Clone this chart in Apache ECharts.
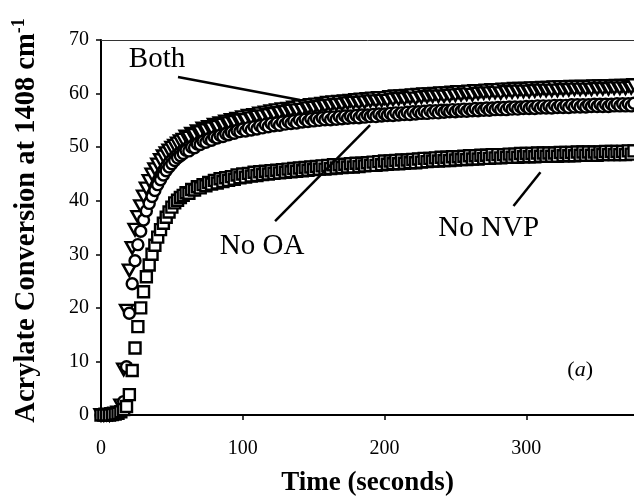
<!DOCTYPE html>
<html><head><meta charset="utf-8">
<script src="https://cdn.jsdelivr.net/npm/echarts/dist/echarts.min.js"></script>
<style>html,body{margin:0;padding:0;background:#fff}#c{width:634px;height:502px}</style>
</head><body><div id="c"></div>
<script>
const times = [
0,2,4,6,8,10,12,14,16,18,
20,22,24,26,28,30,32,34,36,38,
40,42,44,46,48,50,52,54,56,58,
60,62,64,66,68,70,72,74,76,78,
80,82,84,86,88,90,92,94,96,98,
100,102,104,106,108,110,112,114,116,118,
120,122,124,126,128,130,132,134,136,138,
140,142,144,146,148,150,152,154,156,158,
160,162,164,166,168,170,172,174,176,178,
180,182,184,186,188,190,192,194,196,198,
200,202,204,206,208,210,212,214,216,218,
220,222,224,226,228,230,232,234,236,238,
240,242,244,246,248,250,252,254,256,258,
260,262,264,266,268,270,272,274,276,278,
280,282,284,286,288,290,292,294,296,298,
300,302,304,306,308,310,312,314,316,318,
320,322,324,326,328,330,332,334,336,338,
340,342,344,346,348,350,352,354,356,358,
360,362,364,366,368,370,372,374,376];

const both = [
0.0,0.0,0.1,0.0,0.2,0.3,0.5,1.8,8.5,19.5,
27.0,31.2,34.6,37.0,39.0,40.8,42.3,43.7,44.9,45.9,
46.8,47.6,48.3,48.9,49.4,49.9,50.3,50.7,51.1,51.4,
52.0,51.8,52.5,52.3,53.0,52.8,53.5,53.2,53.8,53.5,
54.2,53.8,54.5,54.2,54.8,54.5,55.1,54.7,55.3,55.0,
55.6,55.1,55.9,55.4,56.0,55.7,56.3,55.8,56.5,56.0,
56.7,56.2,56.9,56.4,57.1,56.6,57.2,56.8,57.4,56.9,
57.6,57.0,57.7,57.3,57.9,57.4,58.0,57.5,58.1,57.7,
58.3,57.8,58.4,57.9,58.5,58.0,58.6,58.2,58.7,58.3,
58.8,58.3,58.9,58.4,59.0,58.6,59.1,58.6,59.2,58.7,
59.2,58.7,59.4,58.9,59.5,59.0,59.5,59.0,59.6,59.2,
59.7,59.1,59.8,59.3,59.9,59.4,59.9,59.5,60.0,59.5,
60.1,59.5,60.1,59.6,60.2,59.7,60.3,59.8,60.3,59.9,
60.4,59.8,60.5,60.0,60.5,60.1,60.6,60.1,60.7,60.2,
60.7,60.1,60.8,60.3,60.8,60.3,60.9,60.4,60.9,60.4,
60.9,60.4,61.0,60.5,61.0,60.6,61.1,60.6,61.1,60.6,
61.2,60.6,61.2,60.7,61.2,60.7,61.3,60.8,61.3,60.8,
61.3,60.8,61.3,60.8,61.4,60.9,61.4,60.9,61.4,60.9,
61.4,61.0,61.5,61.0,61.5,61.0,61.5,61.1,61.6];

const noOA = [
0.0,0.0,0.0,0.1,0.1,0.2,0.3,0.6,2.5,9.0,
19.0,24.5,28.8,31.8,34.3,36.4,38.1,39.5,40.8,41.9,
43.0,43.9,44.8,45.6,46.3,46.9,47.5,48.0,48.4,48.8,
49.4,49.3,50.0,49.9,50.6,50.5,51.1,50.9,51.5,51.3,
51.9,51.7,52.2,52.0,52.5,52.3,52.8,52.6,53.1,52.9,
53.4,53.0,53.6,53.2,53.8,53.4,54.0,53.6,54.2,53.8,
54.4,54.0,54.5,54.1,54.7,54.3,54.8,54.4,54.9,54.5,
55.1,54.7,55.2,54.8,55.3,54.9,55.4,55.0,55.5,55.1,
55.6,55.1,55.6,55.2,55.7,55.3,55.8,55.4,55.8,55.5,
55.9,55.5,56.0,55.6,56.0,55.7,56.1,55.7,56.2,55.8,
56.2,55.9,56.3,55.9,56.4,56.0,56.4,56.1,56.5,56.1,
56.6,56.2,56.6,56.3,56.7,56.3,56.8,56.4,56.8,56.4,
56.9,56.5,56.9,56.6,57.0,56.6,57.0,56.7,57.1,56.7,
57.1,56.8,57.2,56.8,57.2,56.9,57.3,56.9,57.3,57.0,
57.4,57.0,57.4,57.0,57.5,57.1,57.5,57.1,57.5,57.2,
57.6,57.2,57.6,57.2,57.7,57.3,57.7,57.3,57.7,57.3,
57.8,57.4,57.8,57.4,57.8,57.4,57.9,57.5,57.9,57.5,
57.9,57.5,57.9,57.6,58.0,57.6,58.0,57.6,58.0,57.6,
58.0,57.7,58.1,57.7,58.1,57.7,58.1,57.7,58.2];

const noNVP = [
0.0,0.0,0.0,0.0,0.1,0.2,0.3,0.6,1.0,1.6,
3.8,8.3,12.5,16.5,20.0,23.0,25.8,28.0,30.0,31.7,
33.2,34.6,35.8,36.9,37.9,38.8,39.6,40.1,40.6,41.0,
41.5,41.4,42.1,42.0,42.6,42.4,43.0,42.8,43.4,43.1,
43.8,43.3,44.1,43.6,44.3,43.8,44.5,44.0,44.8,44.3,
45.0,44.4,45.1,44.6,45.3,44.7,45.4,44.9,45.5,45.0,
45.6,45.1,45.7,45.2,45.8,45.3,45.9,45.4,46.0,45.5,
46.1,45.6,46.2,45.7,46.3,45.8,46.4,45.9,46.5,45.9,
46.6,46.0,46.7,46.1,46.7,46.2,46.8,46.3,46.9,46.3,
47.0,46.4,47.0,46.5,47.1,46.6,47.2,46.6,47.3,46.7,
47.4,46.8,47.4,46.9,47.5,46.9,47.6,47.0,47.6,47.1,
47.7,47.1,47.8,47.2,47.9,47.3,47.9,47.4,48.0,47.4,
48.1,47.5,48.1,47.5,48.2,47.6,48.2,47.7,48.3,47.7,
48.4,47.8,48.4,47.8,48.5,47.9,48.5,47.9,48.6,48.0,
48.6,48.0,48.6,48.1,48.7,48.1,48.7,48.1,48.8,48.2,
48.8,48.2,48.8,48.2,48.9,48.3,48.9,48.3,48.9,48.3,
48.9,48.3,49.0,48.4,49.0,48.4,49.0,48.4,49.1,48.5,
49.1,48.5,49.1,48.5,49.1,48.5,49.1,48.6,49.2,48.6,
49.2,48.6,49.2,48.6,49.2,48.6,49.3,48.7,49.3];

const xTicks = [0, 100, 200, 300];
const yTicks = [0, 10, 20, 30, 40, 50, 60, 70];

// annotation labels and pointer lines, in data coordinates
const labels = [
  {text: 'Both',   at: [39.5, 66.3]},
  {text: 'No OA',  at: [113.6, 31.4]},
  {text: 'No NVP', at: [273.5, 34.9]}
];
const pointers = [
  [[54.3, 63.1], [140.4, 58.8]],
  [[122.8, 36.2], [189.8, 54.1]],
  [[291.0, 39.0], [310.0, 45.3]]
];
const panelTag = {at: [338, 8.4]};

const FONT = 'Liberation Serif';
const markerStyle = {color: '#fff', borderColor: '#000', borderWidth: 2.4, opacity: 1};
function pts(vals) { return times.map((t, i) => [t, vals[i]]); }

const chart = echarts.init(document.getElementById('c'), null, {renderer: 'canvas'});
chart.setOption({
  animation: false,
  backgroundColor: '#fff',
  grid: {left: 101, right: 0, top: 40, bottom: 87, containLabel: false},
  xAxis: [{
    type: 'value', min: 0, max: 376, position: 'bottom',
    name: 'Time (seconds)', nameLocation: 'middle', nameGap: 55,
    nameTextStyle: {fontFamily: FONT, fontWeight: 'bold', fontSize: 27, color: '#000'},
    axisLine: {show: true, onZero: false, lineStyle: {color: '#000', width: 2}},
    axisTick: {show: true, inside: false, length: 5, customValues: xTicks, lineStyle: {color: '#000', width: 1.5}},
    axisLabel: {customValues: xTicks, margin: 24, fontFamily: FONT, fontSize: 20, color: '#000'},
    splitLine: {show: false}
  }, {
    type: 'value', min: 0, max: 376, position: 'top',
    axisLine: {show: true, onZero: false, lineStyle: {color: '#333', width: 1}},
    axisTick: {show: false}, axisLabel: {show: false}, splitLine: {show: false}
  }],
  yAxis: {
    type: 'value', min: 0, max: 70, interval: 10,
    name: '{a|Acrylate Conversion at 1408 cm}{s|-1}',
    nameLocation: 'middle', nameGap: 58,
    nameTextStyle: {
      fontFamily: FONT, fontWeight: 'bold', fontSize: 28.5, color: '#000', padding: [0, 0, 0, 14],
      rich: {
        a: {fontFamily: FONT, fontWeight: 'bold', fontSize: 28.5, color: '#000', lineHeight: 33},
        s: {fontFamily: FONT, fontWeight: 'bold', fontSize: 18, color: '#000', lineHeight: 18, verticalAlign: 'top'}
      }
    },
    axisLine: {show: true, onZero: false, lineStyle: {color: '#000', width: 2}},
    axisTick: {show: true, inside: false, length: 5, customValues: yTicks, lineStyle: {color: '#000', width: 1.5}},
    axisLabel: {customValues: yTicks, margin: 12, fontFamily: FONT, fontSize: 20, color: '#000'},
    splitLine: {show: false}
  },
  series: [
    {name: 'Both', type: 'scatter', data: pts(both), symbol: 'path://M0,0L10,0L5,9Z',
     symbolSize: [13, 11.5], itemStyle: markerStyle, silent: true, clip: false},
    {name: 'No OA', type: 'scatter', data: pts(noOA), symbol: 'circle',
     symbolSize: 11, itemStyle: markerStyle, silent: true, clip: false},
    {name: 'No NVP', type: 'scatter', data: pts(noNVP), symbol: 'rect',
     symbolSize: 11, itemStyle: markerStyle, silent: true, clip: false}
  ]
});

const toPx = p => chart.convertToPixel({xAxisIndex: 0, yAxisIndex: 0}, p);
const graphics = [];
labels.forEach(l => {
  const p = toPx(l.at);
  graphics.push({type: 'text', x: p[0], y: p[1], z: 100,
    style: {text: l.text, fill: '#000', font: '29px "' + FONT + '"', align: 'center', verticalAlign: 'middle'}});
});
pointers.forEach(seg => {
  const a = toPx(seg[0]), b = toPx(seg[1]);
  graphics.push({type: 'line', z: 100, shape: {x1: a[0], y1: a[1], x2: b[0], y2: b[1]},
    style: {stroke: '#000', lineWidth: 2.5}});
});
const tp = toPx(panelTag.at);
graphics.push({type: 'text', x: tp[0], y: tp[1], z: 100,
  style: {text: '{n|(}{i|a}{n|)}', align: 'center', verticalAlign: 'middle',
    rich: {n: {fontFamily: FONT, fontSize: 22, fill: '#000'},
           i: {fontFamily: FONT, fontSize: 22, fontStyle: 'italic', fill: '#000'}}}});
chart.setOption({graphic: graphics});
</script>
</body></html>
